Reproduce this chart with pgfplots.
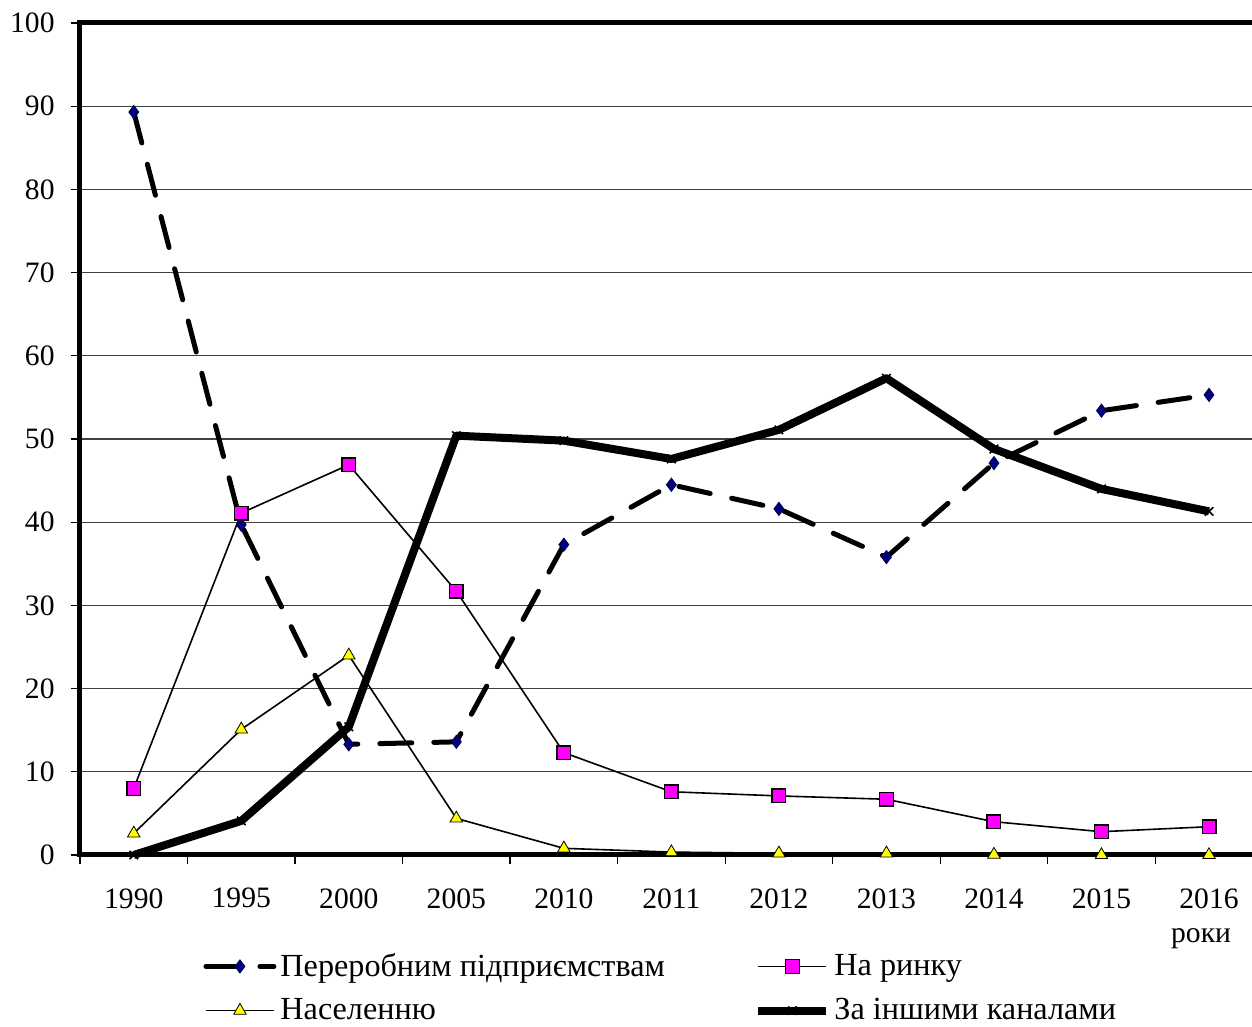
\documentclass[border=0pt]{standalone}
\usepackage{pgfplots}
\pgfplotsset{compat=1.18}
\usepackage{fontspec}
\setmainfont{Liberation Serif}
\definecolor{navyc}{RGB}{0,0,128}
\definecolor{magc}{RGB}{255,0,255}
\definecolor{yelc}{RGB}{255,255,0}
\begin{document}
\begin{tikzpicture}
\useasboundingbox (0,0) rectangle (626pt,513.5pt);
\begin{axis}[
  at={(40pt,86pt)}, anchor=south west,
  scale only axis, width=586pt, height=416pt,
  xmin=-0.5, xmax=10.4, ymin=0, ymax=100,
  axis line style={draw=none},
  xtick={0,...,10},
  xticklabels={1990,1995,2000,2005,2010,2011,2012,2013,2014,2015,2016},
  xtick pos=left, ytick pos=left,
  major x tick style={draw=none},
  minor xtick={-0.5,0.5,...,9.5},
  minor x tick style={black, line width=0.6pt},
  minor tick length=4.5pt,
  major tick length=4.5pt,
  tick align=outside,
  ytick={0,10,...,100},
  y tick style={black, line width=0.6pt},
  ymajorgrids, grid style={black!75, line width=0.6pt},
  tick label style={font=\fontsize{14.8}{17}\selectfont},
  xticklabel style={anchor=north, inner sep=0pt, yshift=-12pt},
  yticklabel style={anchor=east, inner sep=0pt, xshift=-8pt},
  /pgf/number format/assume math mode=true,
  clip=false,
  legend columns=2,
  legend cell align=left,
  legend image code/.code={\draw[mark repeat=2,mark phase=2,#1] plot coordinates {(0pt,0pt) (17pt,0pt) (34pt,0pt)};},
  legend style={at={(axis description cs:0.105,-0.113)}, anchor=north west, draw=none, fill=none, inner sep=0pt,
    font=\fontsize{16.1}{19}\selectfont, row sep=5.5pt, nodes={inner sep=2pt}},
]
\draw[line width=2.5pt] (rel axis cs:1,1) -- (rel axis cs:0,1) -- (rel axis cs:0,0) -- (rel axis cs:1,0);

\addplot[black, line width=2.5pt, dash pattern=on 16pt off 11pt, line cap=round,
  mark=diamond*, mark size=3.3pt, mark options={solid, fill=navyc, draw=navyc!60!black, line width=0.4pt}]
  coordinates {(0,89.3) (1,39.7) (2,13.3) (3,13.6) (4,37.3) (5,44.5) (6,41.6) (7,35.8) (8,47.1) (9,53.4) (10,55.3)};
\addlegendentry{\makebox[235pt][l]{Переробним підприємствам}}

\addplot[black, line width=0.8pt, mark=square*, mark size=3.4pt, mark options={fill=magc, draw=black, line width=0.7pt}]
  coordinates {(0,8.0) (1,41.1) (2,46.9) (3,31.7) (4,12.3) (5,7.6) (6,7.1) (7,6.7) (8,4.0) (9,2.8) (10,3.4)};
\addlegendentry{На ринку}

\addplot[black, line width=0.8pt, mark=triangle*, mark size=3.6pt, mark options={fill=yelc, draw=black, line width=0.4pt}]
  coordinates {(0,2.6) (1,15.1) (2,24.0) (3,4.4) (4,0.8) (5,0.35) (6,0.2) (7,0.2) (8,0.05) (9,0) (10,0)};
\addlegendentry{\makebox[235pt][l]{Населенню}}

\addplot[black, line width=4pt, line join=round, mark=x, mark size=3pt, mark options={line width=0.8pt}]
  coordinates {(0,0) (1,4.1) (2,15.4) (3,50.4) (4,49.8) (5,47.6) (6,51.1) (7,57.3) (8,48.8) (9,44.0) (10,41.3)};
\addlegendentry{За іншими каналами}

\node[anchor=base east, font=\fontsize{14.8}{17}\selectfont, yshift=-44pt] at (axis cs:10.27,0) {роки};
\end{axis}
\end{tikzpicture}
\end{document}
